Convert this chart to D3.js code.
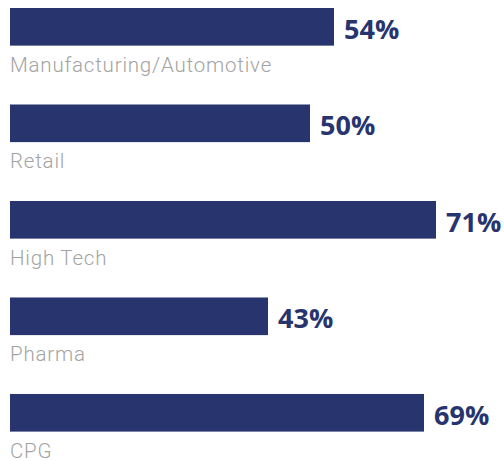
<!DOCTYPE html>
<html>
<head>
<meta charset="utf-8">
<script src="https://cdn.jsdelivr.net/npm/d3@7"></script>
<style>
  html, body { margin: 0; padding: 0; background: #ffffff; }
  svg { display: block; }
</style>
</head>
<body>
<div id="chart"></div>
<script>
const categories = ["Manufacturing/Automotive", "Retail", "High Tech", "Pharma", "CPG"];
const values = [54, 50, 71, 43, 69];
const valueLabels = ["54%", "50%", "71%", "43%", "69%"];

const W = 504, H = 461;
const barColor = "#28346e";
const labelColor = "#a3a3a3";

const svg = d3.select("#chart").append("svg")
  .attr("width", W).attr("height", H);

const x = d3.scaleLinear().domain([0, 71]).range([10, 436]);
const y = d3.scaleBand().domain(categories).range([8, 431.6]).paddingInner(0.61).paddingOuter(0);

const rows = svg.selectAll("g.row")
  .data(categories.map((c, i) => ({ c, v: values[i], l: valueLabels[i] })))
  .enter().append("g").attr("class", "row");

rows.append("rect")
  .attr("x", x(0))
  .attr("y", d => y(d.c))
  .attr("width", d => x(d.v) - x(0))
  .attr("height", y.bandwidth())
  .attr("fill", barColor);

rows.append("text")
  .attr("x", d => x(d.v) + 10)
  .attr("y", d => y(d.c) + y.bandwidth() - 7)
  .attr("font-family", "'Open Sans', sans-serif")
  .attr("font-weight", 700)
  .attr("font-size", 27)
  .attr("fill", barColor)
  .text(d => d.l);

rows.append("text")
  .attr("x", x(0))
  .attr("y", d => y(d.c) + y.bandwidth() + 26)
  .attr("font-family", "Roboto, sans-serif")
  .attr("font-weight", 300)
  .attr("font-size", 20.5)
  .attr("letter-spacing", 0.8)
  .attr("fill", labelColor)
  .text(d => d.c);
</script>
</body>
</html>
